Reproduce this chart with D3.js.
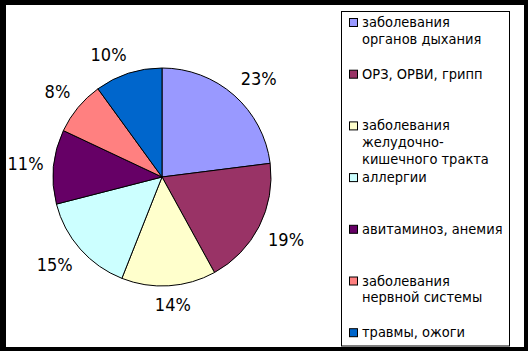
<!DOCTYPE html>
<html>
<head>
<meta charset="utf-8">
<script src="https://cdn.jsdelivr.net/npm/d3@7"></script>
<style>
  html, body { margin: 0; padding: 0; background: #000; }
  svg { display: block; }
</style>
</head>
<body>
<svg id="drawing_region"></svg>
<script>
// chart data
const categories = [
    "заболевания\nорганов дыхания",
    "ОРЗ, ОРВИ, грипп",
    "заболевания\nжелудочно-\nкишечного тракта",
    "аллергии",
    "авитаминоз, анемия",
    "заболевания\nнервной системы",
    "травмы, ожоги"
];
const values = [23, 19, 14, 15, 11, 8, 10];
const colors = ["#9999FF", "#993366", "#FFFFCC", "#CCFFFF", "#660066", "#FF8080", "#0066CC"];

const data = categories.map((c, i) => ({label: c, value: values[i], color: colors[i]}));

class PieChart {

    constructor( config, data ) {
        this.config = {
            parent: config.parent,
            width: config.width || 528,
            height: config.height || 351,
            radius: config.radius || 108,
            cx: config.cx,
            cy: config.cy
        };
        this.data = data;
        this.init();
    }

    init() {
        let self = this;

        self.root = d3.select( self.config.parent )
            .attr('width', self.config.width)
            .attr('height', self.config.height);

        // black frame with white plot area
        self.root.append('rect')
            .attr('x', 0).attr('y', 0)
            .attr('width', self.config.width)
            .attr('height', self.config.height)
            .attr('fill', '#000');
        self.root.append('rect')
            .attr('x', 6).attr('y', 5)
            .attr('width', 518)
            .attr('height', 342)
            .attr('fill', '#fff');

        self.svg = self.root.append('g')
            .attr('transform', `translate(${self.config.cx}, ${self.config.cy})`);

        self.pie = d3.pie()
            .sort(null)
            .value( d => d.value );

        self.arc = d3.arc()
            .innerRadius(0)
            .outerRadius(self.config.radius);

        // labels sit just outside the pie, pushed out by half their box
        self.labelR = self.config.radius + 10;
    }

    update() {
        let self = this;
        self.render();
        self.renderLegend();
    }

    render() {
        let self = this;

        self.svg.selectAll("path")
            .data(self.pie(self.data))
            .enter()
            .append("path")
            .attr('d', self.arc)
            .attr('fill', d => d.data.color)
            .attr("stroke", '#000')
            .attr("stroke-width", '1px');

        self.svg.selectAll("text")
            .data(self.pie(self.data))
            .enter()
            .append("text")
            .attr("fill", "#000")
            .attr("dy", "0.35em")
            .attr("font-family", "'DejaVu Sans Condensed', 'DejaVu Sans'")
            .attr("font-size", "18px")
            .attr("text-anchor", "middle")
            .text(d => d.data.value + "%")
            .attr("transform", function(d) {
                const a = (d.startAngle + d.endAngle) / 2;
                const s = Math.sin(a), c = Math.cos(a);
                const w = this.getComputedTextLength() / 2;
                const h = 9;
                const clamp = v => Math.max(-1, Math.min(1, v));
                const x = self.labelR * s + w * clamp(3 * s);
                const y = -self.labelR * c - h * clamp(3 * c);
                return `translate(${x}, ${y})`;
            });
    }

    renderLegend() {
        let self = this;

        const legend = self.root.append('g');

        legend.append('rect')
            .attr('x', 341.5).attr('y', 11.5)
            .attr('width', 168)
            .attr('height', 334.5)
            .attr('fill', '#fff')
            .attr('stroke', '#000')
            .attr('stroke-width', 1);

        const items = legend.selectAll('g.item')
            .data(self.data)
            .enter()
            .append('g')
            .attr('class', 'item')
            .attr('transform', (d, i) => `translate(349, ${27 + i * 51.7})`);

        items.append('rect')
            .attr('x', 0.5).attr('y', -8.5)
            .attr('width', 8).attr('height', 8)
            .attr('fill', d => d.color)
            .attr('stroke', '#000')
            .attr('stroke-width', 1);

        items.append('text')
            .attr('x', 13)
            .attr('font-family', "'DejaVu Sans Condensed', 'DejaVu Sans'")
            .attr('font-size', '14.5px')
            .attr('fill', '#000')
            .each(function(d) {
                d3.select(this).selectAll('tspan')
                    .data(d.label.split("\n"))
                    .enter()
                    .append('tspan')
                    .attr('x', 13)
                    .attr('dy', (t, j) => j === 0 ? 0 : 16.8)
                    .text(t => t);
            });
    }
}

const pie_chart = new PieChart({
    parent: '#drawing_region',
    width: 528,
    height: 351,
    radius: 109,
    cx: 162,
    cy: 177
}, data);
pie_chart.update();
</script>
</body>
</html>
